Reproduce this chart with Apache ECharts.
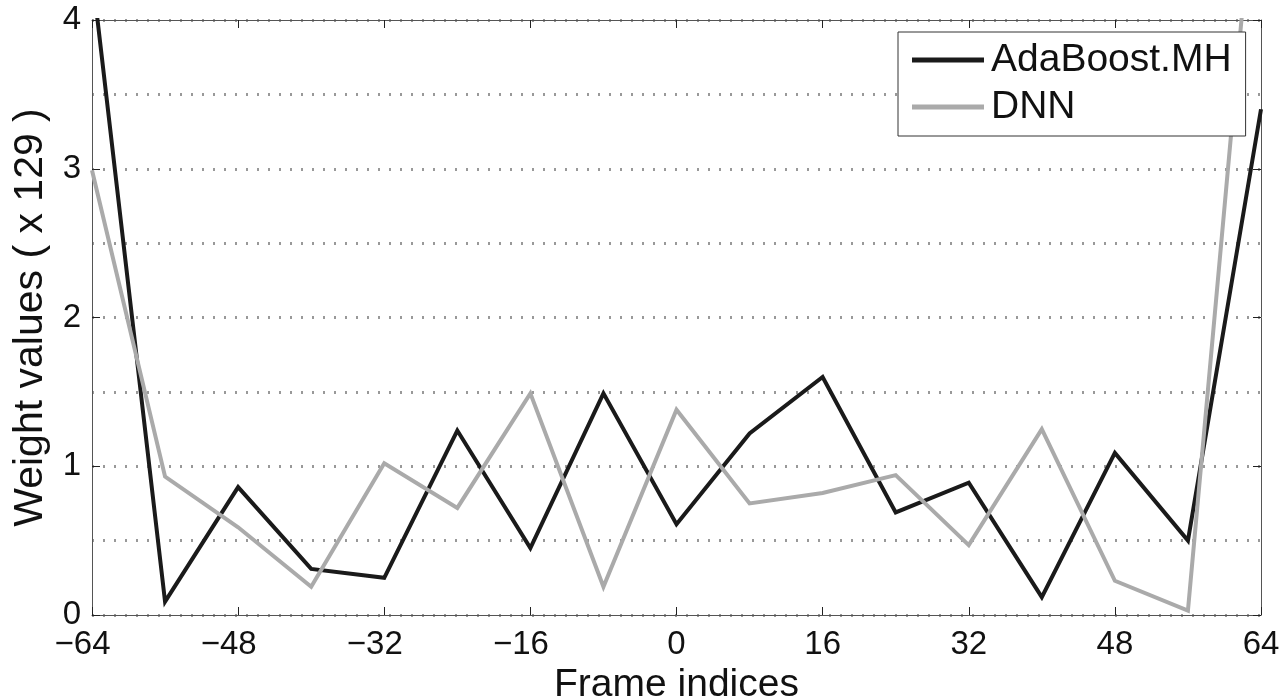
<!DOCTYPE html>
<html>
<head>
<meta charset="utf-8">
<script src="https://cdn.jsdelivr.net/npm/echarts@6/dist/echarts.min.js"></script>
<style>html,body{margin:0;padding:0;background:#fff;}#c{width:1285px;height:700px;}</style>
</head>
<body>
<div id="c"></div>
<script>
var frameIndices = [-64, -56, -48, -40, -32, -24, -16, -8, 0, 8, 16, 24, 32, 40, 48, 56, 64];
var adaboostValues = [4.32, 0.09, 0.86, 0.31, 0.25, 1.24, 0.45, 1.49, 0.61, 1.22, 1.60, 0.69, 0.89, 0.12, 1.09, 0.50, 3.40];
var dnnValues = [2.99, 0.93, 0.59, 0.19, 1.02, 0.72, 1.49, 0.19, 1.38, 0.75, 0.82, 0.94, 0.47, 1.25, 0.23, 0.03, 5.45];
var xTicks = [-64, -48, -32, -16, 0, 16, 32, 48, 64];
var yTicks = [0, 1, 2, 3, 4];
var seriesNames = ['AdaBoost.MH', 'DNN'];

var FONT = 'Liberation Sans, Arial, Helvetica, sans-serif';
function pairs(xs, ys) { return xs.map(function (x, i) { return [x, ys[i]]; }); }

var chart = echarts.init(document.getElementById('c'), null, { renderer: 'canvas' });
var gridDot = { color: '#999', width: 3, type: [2, 9] };
var axisCommon = {
  type: 'value',
  axisLine: { show: true, onZero: false, lineStyle: { color: '#555', width: 1 } },
  axisTick: { show: true, inside: true, length: 8, lineStyle: { color: '#222', width: 1 } }
};

chart.setOption({
  animation: false,
  backgroundColor: '#fff',
  grid: { left: 92, right: 24, top: 20, bottom: 85, containLabel: false, outerBoundsMode: 'none' },
  legend: {
    data: seriesNames,
    orient: 'vertical',
    left: 898, top: 32,
    padding: [7, 14, 8, 14],
    itemGap: 5,
    itemWidth: 72, itemHeight: 5,
    icon: 'rect',
    backgroundColor: '#fff',
    borderColor: '#333', borderWidth: 1,
    textStyle: { fontFamily: FONT, fontSize: 39, color: '#111', padding: [0, 0, 0, 2], lineHeight: 42 }
  },
  xAxis: [
    Object.assign({}, axisCommon, {
      position: 'bottom',
      min: xTicks[0], max: xTicks[xTicks.length - 1], interval: 16,
      splitLine: { show: false },
      name: 'Frame indices', nameLocation: 'middle', nameGap: 42,
      nameTextStyle: { fontFamily: FONT, fontSize: 39, color: '#111' },
      axisLabel: {
        margin: 13, color: '#111', fontFamily: FONT, fontSize: 33,
        formatter: function (v) {
          return v < 0 ? '{n|\u2212' + Math.abs(v) + '}{p|}' : '{n|' + v + '}';
        },
        rich: { n: { fontFamily: FONT, fontSize: 33, color: '#111' }, p: { width: 19 } }
      }
    }),
    Object.assign({}, axisCommon, {
      position: 'top',
      min: xTicks[0], max: xTicks[xTicks.length - 1], interval: 16,
      splitLine: { show: false },
      axisLabel: { show: false }
    })
  ],
  yAxis: [
    Object.assign({}, axisCommon, {
      position: 'left',
      min: yTicks[0], max: yTicks[yTicks.length - 1], interval: 1,
      splitLine: { show: true, lineStyle: gridDot },
      minorTick: { show: false, splitNumber: 2 },
      minorSplitLine: { show: true, lineStyle: gridDot },
      name: 'Weight values ( x 129 )', nameLocation: 'middle', nameGap: 41,
      nameTextStyle: { fontFamily: FONT, fontSize: 41, color: '#111' },
      axisLabel: { margin: 11, color: '#111', fontFamily: FONT, fontSize: 33 }
    }),
    Object.assign({}, axisCommon, {
      position: 'right',
      min: yTicks[0], max: yTicks[yTicks.length - 1], interval: 1,
      splitLine: { show: false },
      axisLabel: { show: false }
    })
  ],
  series: [
    {
      name: seriesNames[0], type: 'line', xAxisIndex: 0, yAxisIndex: 0,
      data: pairs(frameIndices, adaboostValues),
      showSymbol: false, symbol: 'none', clip: true,
      itemStyle: { color: '#1a1a1a' },
      lineStyle: { color: '#1a1a1a', width: 4, join: 'miter' }
    },
    {
      name: seriesNames[1], type: 'line', xAxisIndex: 0, yAxisIndex: 0,
      data: pairs(frameIndices, dnnValues),
      showSymbol: false, symbol: 'none', clip: true,
      itemStyle: { color: '#aaaaaa' },
      lineStyle: { color: '#aaaaaa', width: 4, join: 'miter' }
    }
  ]
});
</script>
</body>
</html>
